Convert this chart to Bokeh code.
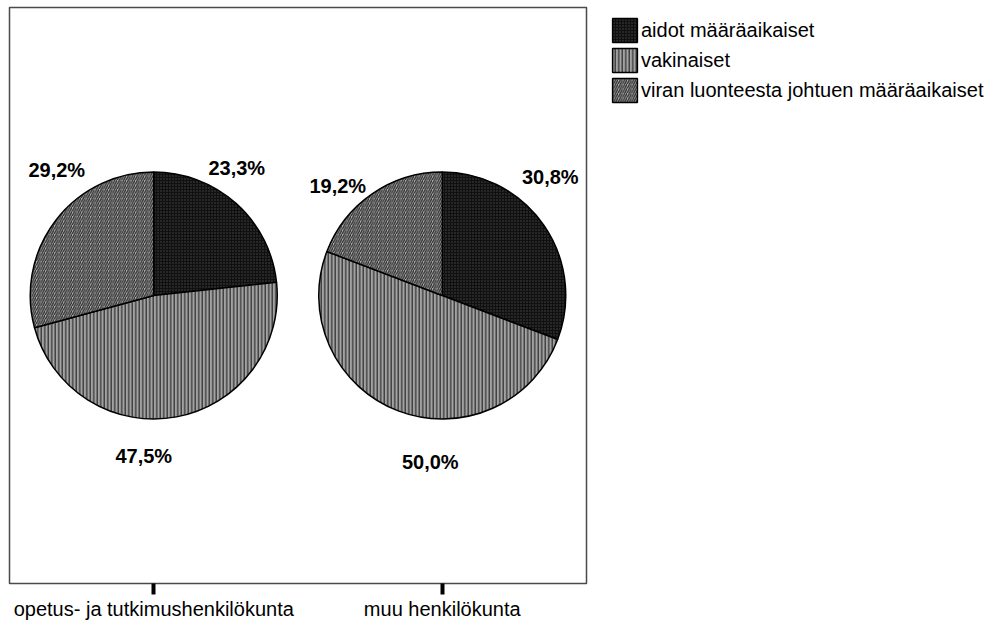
import math

from bokeh.plotting import figure
from bokeh.models import ColumnDataSource, Range1d, FixedTicker, Legend, LegendItem
from bokeh.core.properties import value
from bokeh.embed import file_html
from bokeh.resources import INLINE

# --- data -------------------------------------------------------------
groups = ["opetus- ja tutkimushenkilökunta", "muu henkilökunta"]
categories = ["aidot määräaikaiset", "vakinaiset", "viran luonteesta johtuen määräaikaiset"]
opetus_pct = [23.3, 47.5, 29.2]
muu_pct = [30.8, 50.0, 19.2]
shares = [opetus_pct, muu_pct]

# --- layout -----------------------------------------------------------
FONT = "Liberation Sans"
FRAME_W, FRAME_H = 577, 576
LEFT, TOP = 9, 7
WIDTH, HEIGHT = 998, 625
PIE_RADIUS = 123.5  # screen pixels

# label offsets from each pie centre, in pixels (right, up), per category
label_offsets = [
    [(83, 127.5), (-10, -160), (-97, 125.5)],
    [(108, 119), (-12, -166), (-104.5, 109.5)],
]

# fill + hatch per category
styles = [
    dict(fill_color="#101010", hatch_pattern="dot", hatch_color="#484848",
         hatch_scale=3, hatch_weight=1),
    dict(fill_color="#a2a2a2", hatch_pattern="vertical_line", hatch_color="#2c2c2c",
         hatch_scale=3.5, hatch_weight=1.2),
    dict(fill_color="#b0b0b0", hatch_pattern="right_diagonal_line", hatch_color="#2e2e2e",
         hatch_scale=4.5, hatch_weight=1.3),
]

p = figure(
    width=WIDTH, height=HEIGHT,
    frame_width=FRAME_W, frame_height=FRAME_H,
    min_border_left=LEFT, min_border_top=TOP,
    min_border_right=WIDTH - LEFT - FRAME_W,
    min_border_bottom=HEIGHT - TOP - FRAME_H,
    x_range=Range1d(0, len(groups)), y_range=Range1d(0, 1),
    y_axis_type=None,
    output_backend="svg", toolbar_location=None,
)
p.background_fill_color = "white"
p.border_fill_color = "white"
p.outline_line_color = "#4a4a4a"
p.outline_line_width = 1.5
p.grid.visible = False

xa = p.xaxis[0]
xa.ticker = FixedTicker(ticks=[i + 0.5 for i in range(len(groups))])
xa.major_label_overrides = {i + 0.5: g for i, g in enumerate(groups)}
xa.axis_line_color = None
xa.minor_tick_line_color = None
xa.major_tick_in = 0
xa.major_tick_out = 11
xa.major_tick_line_width = 4
xa.major_tick_line_color = "black"
xa.major_label_standoff = 3
xa.major_label_text_font = FONT
xa.major_label_text_font_size = "20px"
xa.major_label_text_color = "black"

px_x = len(groups) / FRAME_W  # data units per pixel
px_y = 1.0 / FRAME_H

renderers = []
label_x, label_y, label_t = [], [], []
for ci, cat in enumerate(categories):
    xs, ys, starts, ends = [], [], [], []
    for gi, vals in enumerate(shares):
        total = sum(vals)
        before = sum(vals[:ci]) / total
        after = sum(vals[:ci + 1]) / total
        cx = gi + 0.5
        xs.append(cx)
        ys.append(0.5)
        starts.append(math.pi / 2 - 2 * math.pi * before)
        ends.append(math.pi / 2 - 2 * math.pi * after)
        dx, dy = label_offsets[gi][ci]
        label_x.append(cx + dx * px_x)
        label_y.append(0.5 + dy * px_y)
        label_t.append(f"{vals[ci]:.1f}".replace(".", ",") + "%")
    src = ColumnDataSource(dict(x=xs, y=ys, start=starts, end=ends))
    r = p.wedge(
        x="x", y="y", radius=PIE_RADIUS, radius_units="screen",
        start_angle="start", end_angle="end", direction="clock",
        line_color="black", line_width=1.5, source=src, **styles[ci],
    )
    renderers.append(r)

p.text(
    x="x", y="y", text="t",
    source=ColumnDataSource(dict(x=label_x, y=label_y, t=label_t)),
    text_font=value(FONT), text_font_style="bold", text_font_size="20px",
    text_align="center", text_baseline="middle", text_color="black",
)

legend = Legend(
    items=[LegendItem(label=c, renderers=[r]) for c, r in zip(categories, renderers)],
    location=(23, 478),
    padding=0, margin=0, spacing=0,
    glyph_width=31, glyph_height=30, label_height=30,
    label_standoff=1,
    label_text_font=FONT, label_text_font_size="20px", label_text_color="black",
    border_line_color=None, background_fill_alpha=0,
)
p.add_layout(legend, "right")

open("out.html", "w").write(file_html(p, INLINE))
